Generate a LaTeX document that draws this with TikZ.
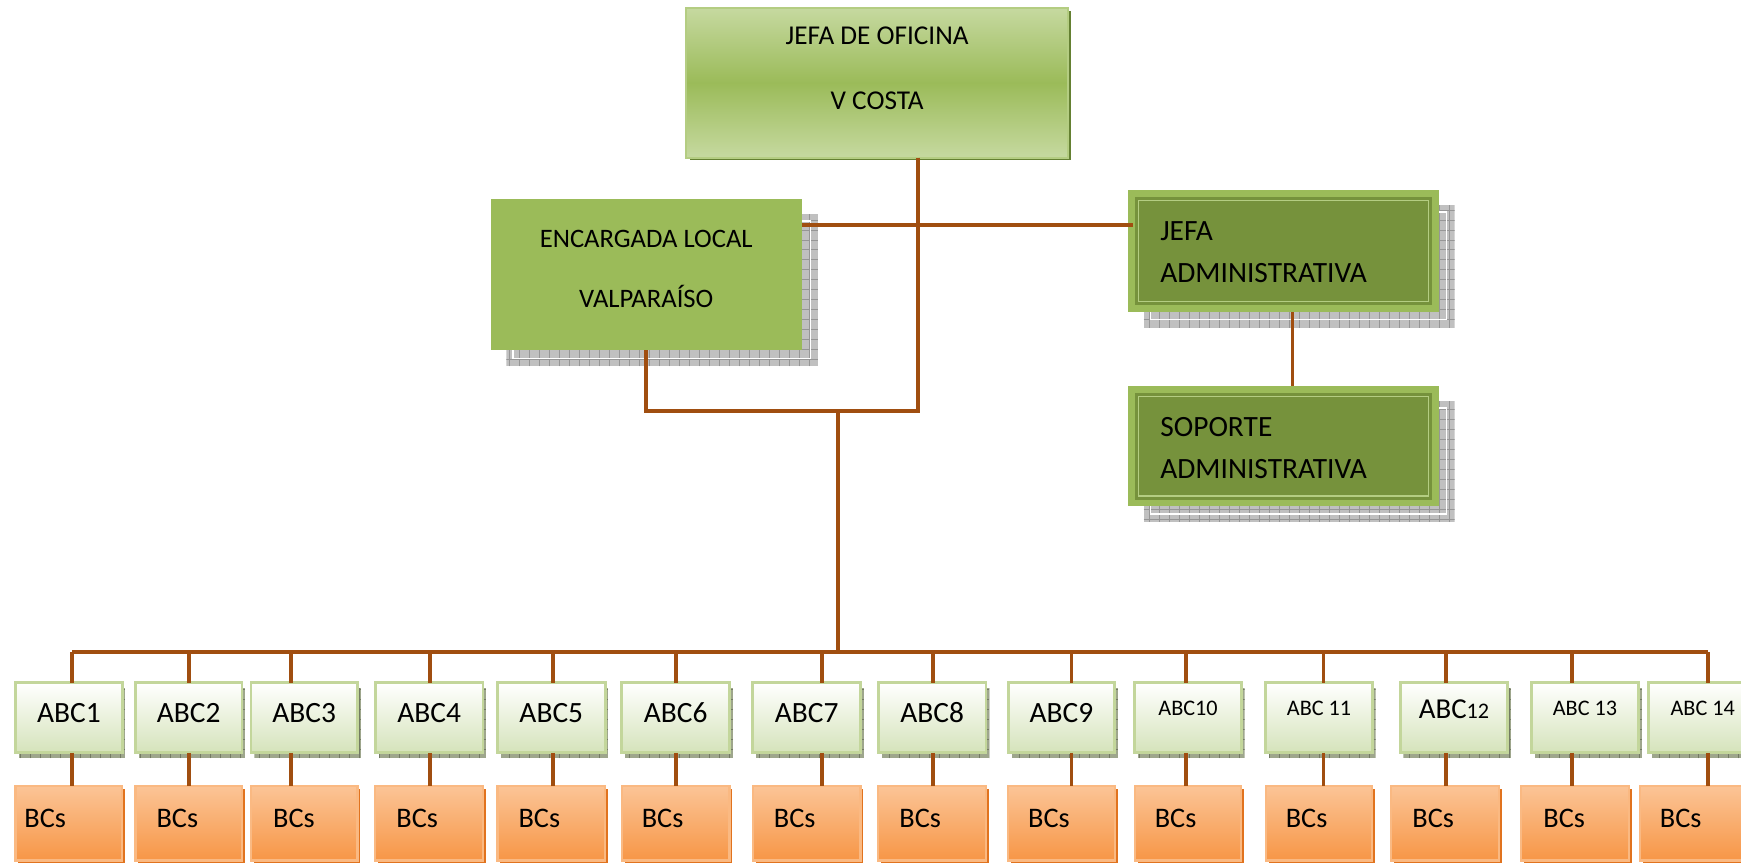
\documentclass[tikz,border=0pt]{standalone}
\usepackage{fontspec}
\setmainfont{Carlito}
\definecolor{conn}{RGB}{160,78,16}
\definecolor{olg}{RGB}{155,187,89}
\definecolor{olgl}{RGB}{198,217,160}
\definecolor{oldk}{RGB}{118,146,60}
\definecolor{olline}{RGB}{180,205,130}
\definecolor{olshadow}{RGB}{100,128,50}
\definecolor{abcbord}{RGB}{195,214,155}
\definecolor{abcbot}{RGB}{213,227,186}
\definecolor{orl}{RGB}{251,196,150}
\definecolor{ord}{RGB}{247,150,70}
\definecolor{orbord}{RGB}{250,185,130}
\definecolor{orsh}{RGB}{225,115,30}
\definecolor{shgray}{RGB}{192,192,192}
\definecolor{shgrid}{RGB}{150,150,150}
\definecolor{shgreen}{RGB}{158,166,140}
\definecolor{shgreengrid}{RGB}{115,122,100}
\newcommand\hatchshadow[6]{%
  \begin{scope}
    \clip (#1,#2) rectangle (#3,#4);
    \fill[#5] (#1,#2) rectangle (#3,#4);
    \draw[#6, line width=0.6pt, step=9pt] (#1,#4) grid (#3,#2);
  \end{scope}}
\newcommand\smallabc{\fontsize{20}{24}\selectfont}
\begin{document}
\begin{tikzpicture}[x=1pt,y=-1pt,
  conline/.style={draw=conn, line width=3.5pt},
  topbox/.style={rectangle, inner sep=0pt, outer sep=0pt, draw=olline, line width=2pt,
    top color=olgl, bottom color=olgl, middle color=olg},
  greenbox/.style={rectangle, inner sep=0pt, outer sep=0pt, fill=olg},
  abcbox/.style={rectangle, inner sep=0pt, outer sep=0pt, draw=abcbord, line width=2.5pt,
    top color=white, bottom color=abcbot},
  bcsbox/.style={rectangle, inner sep=0pt, outer sep=0pt, draw=orbord, line width=2pt,
    top color=orl, bottom color=ord},
  txt/.style={inner sep=0pt, outer sep=0pt, text=black}]
\useasboundingbox (0,0) rectangle (1568,777.2);

% ---------- top box ----------
\fill[olshadow] (621,10) rectangle (964.5,144.5);
\node[topbox, minimum width=344pt, minimum height=135pt] (top) at (790,74.5) {};
\node[txt, font=\fontsize{24.5}{29}\selectfont, anchor=base] (topt1) at (790,40.5) {JEFA DE OFICINA};
\node[txt, font=\fontsize{24.5}{29}\selectfont, anchor=base] (topt2) at (790,99) {V COSTA};

% ---------- encargada ----------
\hatchshadow{456}{193}{737}{330}{shgray}{shgrid}
\draw[white, line width=1.2pt] (462,199) rectangle (730,323);
\node[greenbox, minimum width=280pt, minimum height=136pt] (enc) at (582,247) {};
\node[txt, font=\fontsize{24}{29}\selectfont, anchor=base] (enct1) at (582,222.5) {ENCARGADA LOCAL};
\node[txt, font=\fontsize{24}{29}\selectfont, anchor=base] (enct2) at (582,276.5) {VALPARAÍSO};

% ---------- jefa administrativa ----------
\hatchshadow{1030}{185}{1310}{295}{shgray}{shgrid}
\draw[white, line width=1.2pt] (1036,191) rectangle (1303,288);
\node[greenbox, minimum width=280pt, minimum height=110pt] (jefa) at (1156,226) {};
\fill[oldk] ([shift={(6pt,-6pt)}]jefa.north west) rectangle ([shift={(-6pt,6pt)}]jefa.south east);
\draw[olline, line width=1.5pt] ([shift={(9.5pt,-9.5pt)}]jefa.north west) rectangle ([shift={(-9.5pt,9.5pt)}]jefa.south east);
\node[txt, font=\fontsize{26.5}{31}\selectfont, anchor=base west] (jefat1) at (1045,217) {JEFA};
\node[txt, font=\fontsize{26.5}{31}\selectfont, anchor=base west] (jefat2) at (1045,254.5) {ADMINISTRATIVA};

% ---------- soporte administrativa ----------
\hatchshadow{1030}{361.5}{1310}{470}{shgray}{shgrid}
\draw[white, line width=1.2pt] (1036,367.5) rectangle (1303,463);
\node[greenbox, minimum width=280pt, minimum height=108.5pt] (sop) at (1156,401.75) {};
\fill[oldk] ([shift={(6pt,-6pt)}]sop.north west) rectangle ([shift={(-6pt,6pt)}]sop.south east);
\draw[olline, line width=1.5pt] ([shift={(9.5pt,-9.5pt)}]sop.north west) rectangle ([shift={(-9.5pt,9.5pt)}]sop.south east);
\node[txt, font=\fontsize{26.5}{31}\selectfont, anchor=base west] (sopt1) at (1045,393.5) {SOPORTE};
\node[txt, font=\fontsize{26.5}{31}\selectfont, anchor=base west] (sopt2) at (1045,431) {ADMINISTRATIVA};

% ---------- bottom rows ----------
\foreach \i/\xa/\xb/\xd/\xc/\xe/\xt/\lab/\fz/\yb in {
1/14/110/65/14/110/22/ABC1/26.5/651,
2/122/218/170/122/218/141/ABC2/26.5/651,
3/226/322/262/226/322/246/ABC3/26.5/651,
4/338/435/387/338/435/357/ABC4/26.5/651,
5/448/545/498/448/545/467/ABC5/26.5/651,
6/560/657/609/560/657/578/ABC6/26.5/651,
7/678/775/740/678/775/697/ABC7/26.5/651,
8/791/888/840/791/888/810/ABC8/26.5/651,
9/908/1004/965/908/1004/926/ABC9/26.5/651,
10/1022/1118/1068/1022/1118/1040/ABC10/20/644,
11/1140/1236/1192/1140/1236/1158/ABC 11/20/644,
12/1261/1358/1302/1253/1350/1272/{ABC{\smallabc 12}}/26/647,
13/1379/1476/1416/1370/1467/1390/ABC 13/20/644,
14/1485/1582/1538/1477/1574/1495/ABC 14/20/644}{
  \pgfmathsetmacro\wa{\xb-\xa}
  \pgfmathsetmacro\ca{(\xa+\xb)/2}
  \pgfmathsetmacro\we{\xe-\xc}
  \pgfmathsetmacro\ce{(\xc+\xe)/2}
  \hatchshadow{\xa+3}{620}{\xb+3}{683}{shgreen}{shgreengrid}
  \node[abcbox, minimum width=\wa pt, minimum height=63pt] (abc\i) at (\ca,646.5) {};
  \node[txt, font=\fontsize{\fz}{\fz}\selectfont, anchor=base] (abct\i) at (\ca,\yb) {\lab};
  \fill[orsh] (\xc+2.5,710.5) rectangle (\xe+2.5,777.5);
  \node[bcsbox, minimum width=\we pt, minimum height=67pt] (bcs\i) at (\ce,741.5) {};
  \node[txt, font=\fontsize{25.5}{30}\selectfont, anchor=base west] (bcst\i) at (\xt,745) {BCs};
  \coordinate (d\i) at (\xd,587);
}

% ---------- connectors ----------
\coordinate (tv) at (827,370);
\coordinate (hub) at (755,370);
\coordinate (jl) at (0,203);
\coordinate (sv) at (1164,0);
\draw[conline] (top.south -| tv) -- (tv) -- (tv -| enc.south) -- (enc.south);
\draw[conline] (hub) -- (hub |- d1);
\draw[conline] (enc.east |- jl) -- ([xshift=4pt]jefa.west |- jl);
\draw[conline] (jefa.south -| sv) -- (sop.north -| sv);
\draw[conline] (d1) -- (d14);
\foreach \i in {1,...,14}{
  \draw[conline] (d\i) -- (d\i |- abc\i.north);
  \draw[conline] (abc\i.south -| d\i) -- (d\i |- bcs\i.north);
}
\end{tikzpicture}
\end{document}
